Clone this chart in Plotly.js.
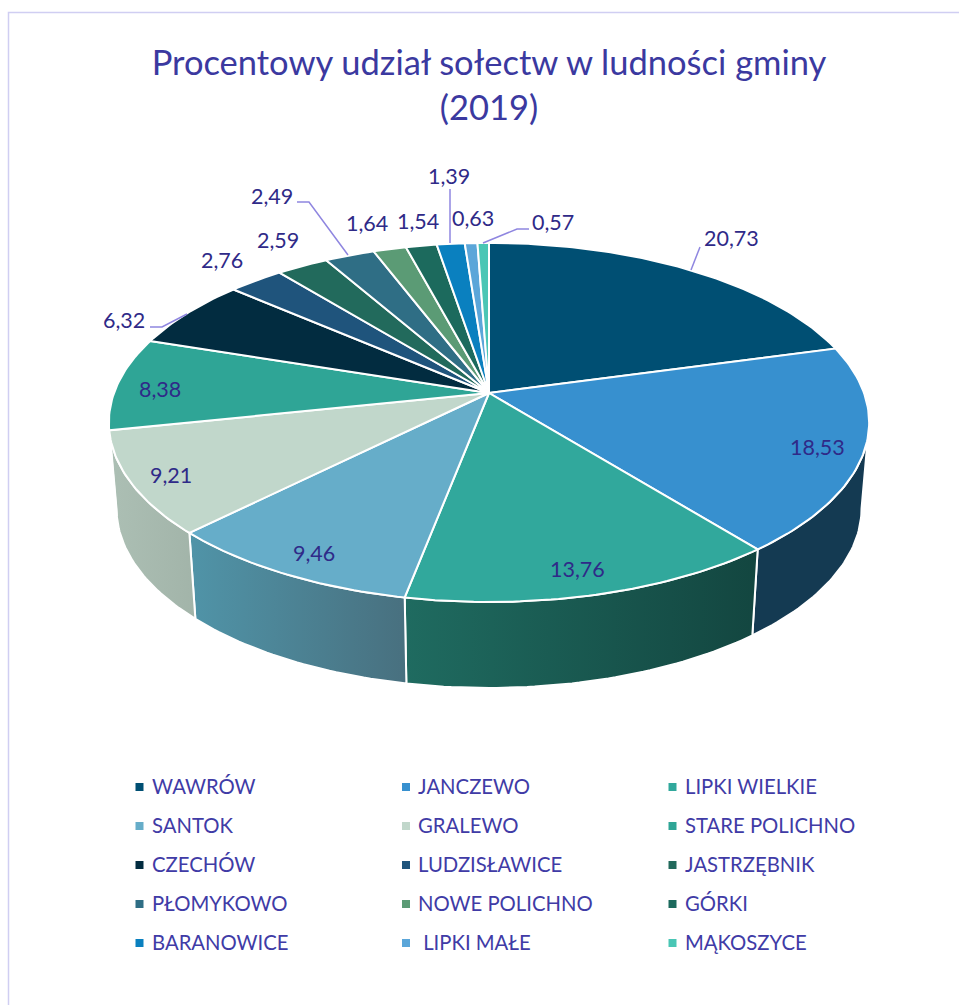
<!DOCTYPE html>
<html><head><meta charset="utf-8">
<script src="https://cdn.plot.ly/plotly-3.0.1.min.js"></script>
<style>html,body{margin:0;padding:0;background:#fff}#c{width:959px;height:1005px}</style>
</head><body><div id="c"></div>
<script>
const categories = ["WAWRÓW","JANCZEWO","LIPKI WIELKIE","SANTOK","GRALEWO","STARE POLICHNO","CZECHÓW","LUDZISŁAWICE","JASTRZĘBNIK","PŁOMYKOWO","NOWE POLICHNO","GÓRKI","BARANOWICE","LIPKI MAŁE","MĄKOSZYCE"];
const legendLabels = ["WAWRÓW","JANCZEWO","LIPKI WIELKIE","SANTOK","GRALEWO","STARE POLICHNO","CZECHÓW","LUDZISŁAWICE","JASTRZĘBNIK","PŁOMYKOWO","NOWE POLICHNO","GÓRKI","BARANOWICE","\u00a0LIPKI MAŁE","MĄKOSZYCE"];
const values = [20.73,18.53,13.76,9.46,9.21,8.38,6.32,2.76,2.59,2.49,1.64,1.54,1.39,0.63,0.57];
const topColors = ["#004f73","#3790cf","#31a89c","#66adc9","#c1d7cb","#2fa596","#022c40","#1f547c","#226a5c","#2f6e85","#5b9b75","#1c6a5d","#0a80bf","#5ba6d9","#4ac6b5"];
const wallColors = [["#004f73","#004f73"],["#143a52","#143a52"],["#1f6b60","#134640"],["#5094a8","#48707f"],["#acbfb4","#a2b4a9"],["#1e6e62","#1e6e62"]];
const labelX = [731,817,577,314,171,160,124,222,278,272,367,418,449,473,553];
const labelY = [238,447,569,553,475,389,320,260,240,196,223,221,176,218,222];

// projection of the pie disc
const CX=489, CY=393, R=375, S=174.7, K=0.164, DROP=86, XS=0.98;
const rad=d=>d*Math.PI/180;
function topRim(a){const u=Math.sin(rad(a)),v=Math.cos(rad(a)),w=1+K*v;return [CX+R*u/w,CY-S*v/w];}
function botRim(a){const p=topRim(a);return [CX+(p[0]-CX)*XS,p[1]+DROP];}
function arc(fn,a0,a1){const n=Math.max(2,Math.ceil(Math.abs(a1-a0)));const o=[];for(let i=0;i<=n;i++)o.push(fn(a0+(a1-a0)*i/n));return o;}

const total=values.reduce((s,v)=>s+v,0);
const starts=[];let acc=0;values.forEach(v=>{starts.push(acc/total*360);acc+=v;});
const frontA=Math.acos(-K)*180/Math.PI, frontB=360-frontA;
const traces=[];
// side walls
values.forEach((v,i)=>{
  const a0=Math.max(starts[i],frontA), a1=Math.min(starts[i]+v/total*360,frontB);
  if(a1<=a0) return;
  const pts=arc(topRim,a0,a1).concat(arc(botRim,a1,a0));pts.push(pts[0]);
  const c=wallColors[i]||wallColors[0];
  traces.push({type:'scatter',mode:'lines',x:pts.map(p=>p[0]),y:pts.map(p=>p[1]),fill:'toself',
    fillgradient:{type:'horizontal',colorscale:[[0,c[0]],[1,c[1]]]},
    line:{color:'#ffffff',width:2},hoverinfo:'skip',showlegend:false,name:categories[i]+' wall'});
});
// top faces
values.forEach((v,i)=>{
  const pts=[[CX,CY]].concat(arc(topRim,starts[i],starts[i]+v/total*360));pts.push([CX,CY]);
  traces.push({type:'scatter',mode:'lines',x:pts.map(p=>p[0]),y:pts.map(p=>p[1]),fill:'toself',fillcolor:topColors[i],
    line:{color:'#ffffff',width:2},name:categories[i],showlegend:false,hoverinfo:'name'});
});
// legend squares
const colX=[139.5,406,672.5], rowY=[787,826,865,904,943], textX=[150.5,417,683.5];
const lx=[],ly=[];categories.forEach((c,i)=>{lx.push(colX[i%3]);ly.push(rowY[Math.floor(i/3)]);});
traces.push({type:'scatter',mode:'markers',x:lx,y:ly,text:categories,hoverinfo:'text',showlegend:false,
  marker:{symbol:'square',size:8,color:topColors}});

const font='Lato, Carlito, "Noto Sans", sans-serif';
const ann=[];
values.forEach((v,i)=>ann.push({x:labelX[i],y:labelY[i],xref:'x',yref:'y',showarrow:false,
  text:v.toFixed(2).replace('.',','),font:{family:font,size:21.5,color:'#2f2a88'},xanchor:'center',yanchor:'middle'}));
legendLabels.forEach((t,i)=>ann.push({x:textX[i%3],y:rowY[Math.floor(i/3)]-1,xref:'x',yref:'y',showarrow:false,
  text:t,font:{family:font,size:20.3,color:'#403ba6'},xanchor:'left',yanchor:'middle',borderpad:0}));

const leaders=["M691,270 L700,247","M483,243 L517,229 L529,229","M450,243 L450,189","M348,255 L309,202 L297,202","M187,314 L162,327 L150,327"];
const shapes=leaders.map(p=>({type:'path',path:p,xref:'x',yref:'y',line:{color:'#8f86e0',width:1.5}}));
shapes.push({type:'path',path:'M8.5,1005 L8.5,12.5 L959,12.5',xref:'x',yref:'y',line:{color:'#d0cef2',width:1.5}});

Plotly.newPlot('c',traces,{
  width:959,height:1005,margin:{l:0,r:0,t:0,b:0},paper_bgcolor:'#fff',plot_bgcolor:'#fff',showlegend:false,
  title:{text:'Procentowy udział sołectw w ludności gminy<br>(2019)',font:{family:font,size:34.5,color:'#3b39a0'},
    x:489/959,xanchor:'center',y:1-75/1005,yanchor:'top',automargin:false},
  xaxis:{range:[0,959],visible:false,fixedrange:true},
  yaxis:{range:[1005,0],visible:false,fixedrange:true},
  annotations:ann,shapes:shapes
},{displayModeBar:false});
</script></body></html>
